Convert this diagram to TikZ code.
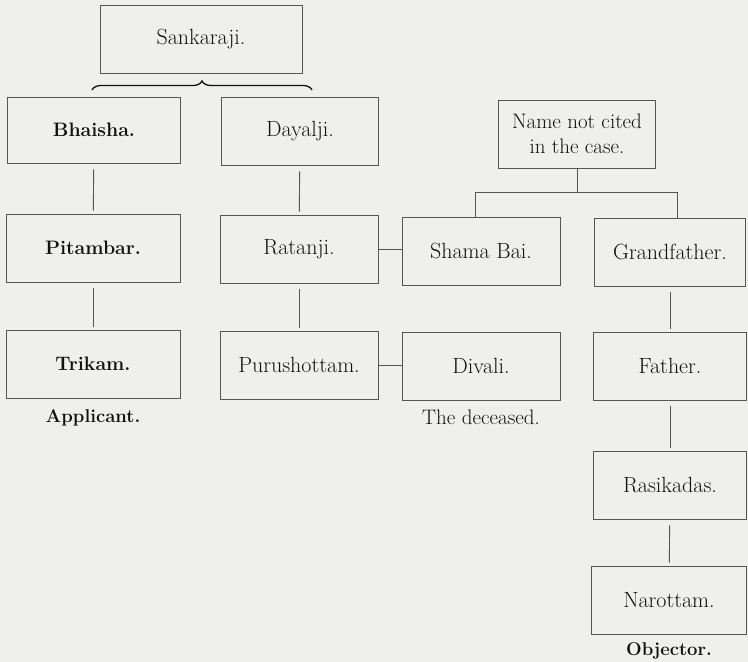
\documentclass[tikz,border=0pt]{standalone}
\usepackage{tikz}
\usetikzlibrary{positioning, calc, decorations.pathreplacing}
\definecolor{pedPaper}{HTML}{EFEFED}
\definecolor{pedInk}{HTML}{111111}
\definecolor{pedRule}{HTML}{555555}

\begin{document}
\begin{tikzpicture}[
    x=1pt, y=-1pt,
    member/.style={draw=pedRule, line width=0.75pt, minimum height=68pt, inner sep=2pt, align=center, text=pedInk, font=\fontsize{22}{25}\selectfont},
    heir/.style={member, font=\fontsize{19.5}{25}\selectfont\bfseries},
    link/.style={draw=pedRule, line width=0.9pt},
    drop/.style={link, shorten <=6pt, shorten >=3pt},
    caption/.style={text=pedInk, font=\fontsize{21}{25}\selectfont, inner sep=1pt}
]
    \fill[pedPaper] (0,0) rectangle (748,662);
    \useasboundingbox (0,0) rectangle (748,662);

    % applicant's side
    \node[member, minimum width=202pt] (sankaraji) at (201,39) {Sankaraji.};
    \node[heir, minimum width=173pt, minimum height=66pt] (bhaisha) at (94,130) {Bhaisha.};
    \node[member, minimum width=157pt] (dayalji) at (300,131) {Dayalji.};
    \node[heir, minimum width=174pt] (pitambar) at (93,248) {Pitambar.};
    \node[member, minimum width=158pt] (ratanji) at (299,249) {Ratanji.};
    \node[heir, minimum width=174pt] (trikam) at (93,364) {Trikam.};
    \node[member, minimum width=158pt] (purushottam) at (299,365) {Purushottam.};
    \node[caption, font=\fontsize{18.5}{25}\selectfont\bfseries, below=10pt of trikam] (applicant) {Applicant.};

    \coordinate (braceL) at (92,90);
    \coordinate (braceR) at (312,90);
    \draw[draw=pedInk, line width=1.3pt, decorate, decoration={brace, amplitude=9pt}] (braceL) -- (braceR);

    \draw[drop] (bhaisha) -- (pitambar);
    \draw[drop] (pitambar) -- (trikam);
    \draw[drop] (dayalji) -- (ratanji);
    \draw[drop] (ratanji) -- (purushottam);

    % deceased's and objector's side
    \node[member, minimum width=157pt, font=\fontsize{21}{25}\selectfont] (unnamed) at (577,134) {Name not cited\\in the case.};
    \node[member, minimum width=158pt] (shama) at (481,251) {Shama Bai.};
    \node[member, minimum width=151pt] (grandfather) at (670,252) {Grandfather.};
    \node[member, minimum width=158pt] (divali) at (481,366) {Divali.};
    \node[member, minimum width=153pt] (father) at (670,366) {Father.};
    \node[member, minimum width=153pt] (rasikadas) at (670,485) {Rasikadas.};
    \node[member, minimum width=155pt] (narottam) at (669,600) {Narottam.};
    \node[caption, below=8pt of divali] (deceased) {The deceased.};
    \node[caption, font=\fontsize{18.5}{25}\selectfont\bfseries, below=7pt of narottam] (objector) {Objector.};

    \coordinate (split) at ($(unnamed.south)+(0,24)$);
    \coordinate (leftTick) at ($(shama.north)+(-6,0)$);
    \coordinate (rightTick) at ($(grandfather.north)+(7,0)$);
    \draw[link] (unnamed.south) -- (split);
    \draw[link] (split -| leftTick) -- (split -| rightTick);
    \draw[link] (split -| leftTick) -- (leftTick);
    \draw[link] (split -| rightTick) -- (rightTick);

    \draw[drop] (grandfather) -- (father);
    \draw[drop] (father) -- (rasikadas);
    \draw[drop] (rasikadas) -- (narottam);

    \draw[link] (ratanji.east) -- (ratanji.east -| shama.west);
    \draw[link] (purushottam.east) -- (purushottam.east -| divali.west);
\end{tikzpicture}
\end{document}
